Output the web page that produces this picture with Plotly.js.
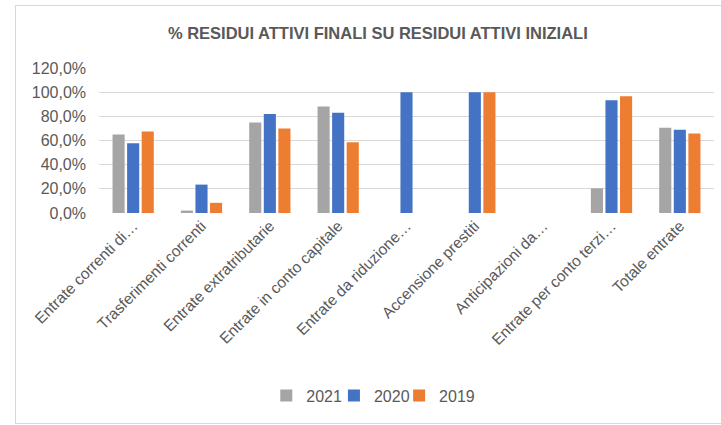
<!DOCTYPE html>
<html><head><meta charset="utf-8">
<script src="https://cdn.plot.ly/plotly-3.0.1.min.js"></script>
<style>html,body{margin:0;padding:0;background:#fff;overflow:hidden}#c{width:721px;height:425px}
#frame{position:absolute;left:15px;top:5px;width:712px;height:417px;border:1px solid #d9d9d9;pointer-events:none}</style>
</head><body><div id="c"></div><div id="frame"></div>
<script>
const categories = ["Entrate correnti di…","Trasferimenti correnti","Entrate extratributarie","Entrate in conto capitale","Entrate da riduzione…","Accensione prestiti","Anticipazioni da…","Entrate per conto terzi…","Totale entrate"];
const y2021 = [65.0, 2.0, 74.8, 88.2, 0, 0, 0, 20.4, 70.6];
const y2020 = [57.7, 23.5, 82.0, 82.9, 100, 100, 0, 93.3, 68.9];
const y2019 = [67.5, 8.4, 70.0, 58.5, 0, 100, 0, 96.6, 65.8];
const yTicks = [0,20,40,60,80,100,120];
const yTickText = ["0,0%","20,0%","40,0%","60,0%","80,0%","100,0%","120,0%"];
const font = "Liberation Sans, Arial, sans-serif";
const mk = (name, y, color, lg) => ({type:'bar', name, x:categories, y, marker:{color}, hoverinfo:'skip', legend:lg});
const data = [mk('2021', y2021, '#A5A5A5', 'legend'), mk('2020', y2020, '#4472C4', 'legend2'), mk('2019', y2019, '#ED7D31', 'legend3')];
const lg = (x) => ({orientation:'h', x, xanchor:'left', y:-1.26, yanchor:'middle', font:{size:16, color:'#595959'}, itemwidth:30, bgcolor:'rgba(0,0,0,0)'});
const layout = {
  width:721, height:425,
  margin:{l:99, r:7, t:68, b:212},
  paper_bgcolor:'rgba(0,0,0,0)', plot_bgcolor:'#fff',
  font:{family:font, color:'#595959', size:15},
  title:{text:'<b>% RESIDUI ATTIVI FINALI SU RESIDUI ATTIVI INIZIALI</b>', x:0.524, xanchor:'center', y:0.922, yanchor:'middle', font:{family:font, size:16.5, color:'#595959'}},
  barmode:'group', bargap:0.36, bargroupgap:0.17,
  xaxis:{tickangle:-45, showgrid:false, zeroline:false, showline:false, ticks:'', tickfont:{size:15.5, color:'#595959'}},
  yaxis:{range:[0,120], tickvals:yTicks, ticktext:yTickText, showgrid:true, gridcolor:'#D9D9D9', gridwidth:1.3, zeroline:false, showline:false, ticks:'', ticklen:0, ticklabelstandoff:12, tickfont:{size:16, color:'#595959'}},
  showlegend:true,
  legend:lg(0.272), legend2:lg(0.382), legend3:lg(0.488)
};
Plotly.newPlot('c', data, layout, {displayModeBar:false, staticPlot:true});
</script></body></html>
